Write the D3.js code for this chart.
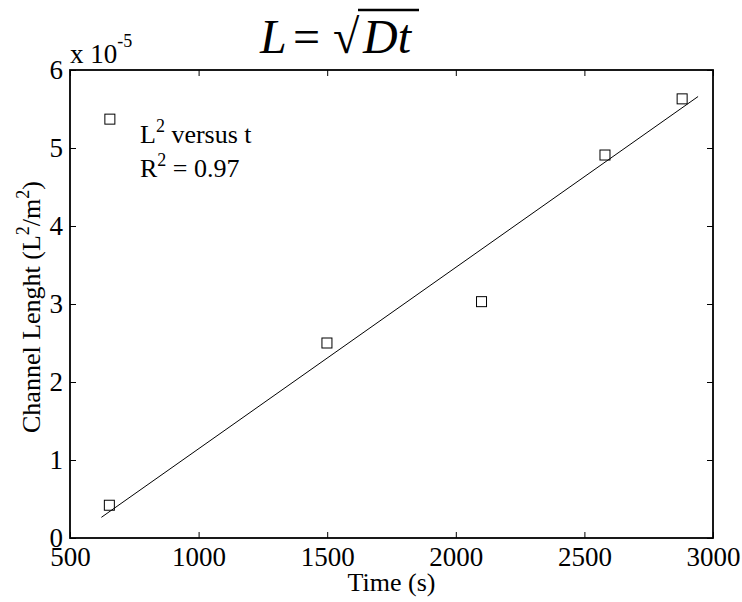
<!DOCTYPE html>
<html>
<head>
<meta charset="utf-8">
<script src="https://cdn.jsdelivr.net/npm/d3@7"></script>
<style>
  body { margin: 0; background: #fff; }
</style>
</head>
<body>
<div id="c"></div>
<script>
"use strict";

const serif = 'Liberation Serif'

// measured points (time in s, length in units of 1e-5)
const times = [655, 653, 1499, 2100, 2580, 2880]
const lengths = [5.37, 0.42, 2.50, 3.03, 4.91, 5.63]

// fitted line end points
const fitTimes = [622, 2942]
const fitLengths = [0.265, 5.66]

const xTicks = [500, 1000, 1500, 2000, 2500, 3000]
const yTicks = [0, 1, 2, 3, 4, 5, 6]

const width = 742, height = 602
const margin = {top: 70, right: 29, bottom: 64, left: 70}
const w = width - margin.left - margin.right
const h = height - margin.top - margin.bottom

let svg = d3.select('#c').append('svg')
    .attr('width', width).attr('height', height)
    .attr('font-family', serif)

let g = svg.append('g')
    .attr('transform', "translate(" + margin.left + "," + margin.top + ")")

let xScale = d3.scaleLinear().domain([500, 3000]).range([0, w])
let yScale = d3.scaleLinear().domain([0, 6]).range([h, 0])

const tickLen = 6

// axes with inward ticks on all four sides
g.append('g')
    .attr('transform', 'translate(0,' + h + ')')
    .call(d3.axisBottom(xScale).tickValues(xTicks).tickSizeInner(-tickLen).tickSizeOuter(0).tickPadding(9).tickFormat(d3.format('d')))
g.append('g')
    .call(d3.axisTop(xScale).tickValues(xTicks).tickSizeInner(-tickLen).tickSizeOuter(0).tickFormat(''))
g.append('g')
    .call(d3.axisLeft(yScale).tickValues(yTicks).tickSizeInner(-tickLen).tickSizeOuter(0).tickPadding(7).tickFormat(d3.format('d')))
g.append('g')
    .attr('transform', 'translate(' + w + ',0)')
    .call(d3.axisRight(yScale).tickValues(yTicks).tickSizeInner(-tickLen).tickSizeOuter(0).tickFormat(''))

g.selectAll('g').attr('font-family', serif).attr('font-size', 27)
g.selectAll('.domain').remove()
g.selectAll('.tick line').attr('stroke', '#000').attr('stroke-width', 1)

// frame
g.append('rect')
    .attr('x', 0).attr('y', 0).attr('width', w).attr('height', h)
    .attr('fill', 'none').attr('stroke', '#000').attr('stroke-width', 1.8)

// fit line
g.append('line')
    .attr('x1', xScale(fitTimes[0])).attr('y1', yScale(fitLengths[0]))
    .attr('x2', xScale(fitTimes[1])).attr('y2', yScale(fitLengths[1]))
    .attr('stroke', '#000').attr('stroke-width', 1)

// square markers
const ms = 10
g.selectAll('rect.pt')
    .data(times.map((t, i) => ({t: t, v: lengths[i]})))
    .enter().append('rect')
    .attr('class', 'pt')
    .attr('x', d => xScale(d.t) - ms / 2)
    .attr('y', d => yScale(d.v) - ms / 2)
    .attr('width', ms).attr('height', ms)
    .attr('fill', 'none').attr('stroke', '#000').attr('stroke-width', 1)

// legend text
let leg = g.append('g').attr('font-size', 26)
let t1 = leg.append('text').attr('x', 70).attr('y', 73)
t1.append('tspan').text('L')
t1.append('tspan').text('2').attr('dy', -11).attr('font-size', 18)
t1.append('tspan').text(' versus t').attr('dy', 11)
let t2 = leg.append('text').attr('x', 70).attr('y', 107)
t2.append('tspan').text('R')
t2.append('tspan').text('2').attr('dy', -11).attr('font-size', 18)
t2.append('tspan').text(' = 0.97').attr('dy', 11)

// exponent label
let ex = svg.append('text').attr('x', 70).attr('y', 63).attr('font-size', 27)
ex.append('tspan').text('x 10')
ex.append('tspan').text('-5').attr('dy', -16).attr('font-size', 18)

// x label
svg.append('text')
    .attr('x', margin.left + w / 2).attr('y', 591)
    .attr('text-anchor', 'middle').attr('font-size', 26)
    .text('Time (s)')

// y label
let yl = svg.append('text')
    .attr('transform', 'translate(40,' + (margin.top + h / 2 + 3) + ') rotate(-90)')
    .attr('text-anchor', 'middle').attr('font-size', 26)
yl.append('tspan').text('Channel Lenght (L')
yl.append('tspan').text('2').attr('dy', -11).attr('font-size', 18)
yl.append('tspan').text('/m').attr('dy', 11)
yl.append('tspan').text('2').attr('dy', -11).attr('font-size', 18)
yl.append('tspan').text(')').attr('dy', 11)

// title L = sqrt(Dt)
let title = svg.append('g').attr('font-size', 48)
title.append('text').attr('x', 260).attr('y', 53).attr('font-style', 'italic').text('L')
title.append('text').attr('x', 293).attr('y', 53).text('=')
title.append('text').attr('x', 333).attr('y', 53).text('\u221A')
title.append('text').attr('x', 363).attr('y', 53).attr('font-style', 'italic').text('Dt')
title.append('line')
    .attr('x1', 358).attr('x2', 419).attr('y1', 10).attr('y2', 10)
    .attr('stroke', '#000').attr('stroke-width', 2.5)
</script>
</body>
</html>
